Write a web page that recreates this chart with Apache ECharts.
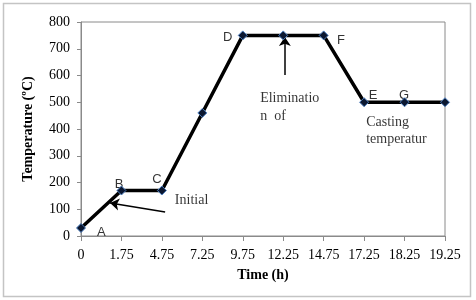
<!DOCTYPE html>
<html><head><meta charset="utf-8">
<script src="https://cdn.jsdelivr.net/npm/echarts@6/dist/echarts.min.js"></script>
<style>html,body{margin:0;padding:0;background:#fff}#c{width:476px;height:300px}</style>
</head><body><div id="c"></div>
<script>
var categories = ['0','1.75','4.75','7.25','9.75','12.25','14.75','17.25','18.25','19.25'];
var temps = [30,170,170,460,750,750,750,500,500,500];
var yTicks = {min:0, max:800, interval:100};
// annotation items in (category index, value) space
var letterLabels = [['A',0.5,15],['B',0.94,192],['C',1.88,212],['D',3.63,742],['F',6.43,733],['E',7.22,524],['G',7.99,524]];
var noteTexts = [['Initial',2.32,135],['Eliminatio',4.43,516],['n  of',4.43,449],['Casting',7.05,426],['temperatur',7.05,363]];
var arrows = [[[2.08,90],[0.72,123]],[[5.04,602],[5.04,744]]];

var chart = echarts.init(document.getElementById('c'));
var serif = '"Liberation Serif","Times New Roman",serif';
chart.setOption({
  animation:false,
  grid:{left:81,right:31,top:22,bottom:64,show:true,borderColor:'#8a8a8a',borderWidth:1},
  graphic:[{type:'rect',shape:{x:3.5,y:3.5,width:467,height:293},style:{fill:'none',stroke:'#c4c4c4',lineWidth:1.5}}],
  xAxis:[{type:'category',data:categories,boundaryGap:false,
    name:'Time (h)',nameLocation:'middle',nameGap:32,
    nameTextStyle:{fontFamily:serif,fontWeight:'bold',fontSize:14,color:'#000'},
    axisLine:{lineStyle:{color:'#8a8a8a'}},axisTick:{show:true,length:5,interval:0,lineStyle:{color:'#8a8a8a'}},
    axisLabel:{fontFamily:serif,fontSize:14,color:'#000',margin:12,interval:0,hideOverlap:false},splitLine:{show:false}},
    {type:'value',min:0,max:9,show:false}],
  yAxis:{type:'value',min:yTicks.min,max:yTicks.max,interval:yTicks.interval,
    name:'Temperature (ºC)',nameLocation:'middle',nameGap:46,
    nameTextStyle:{fontFamily:serif,fontWeight:'bold',fontSize:14,color:'#000'},
    axisLine:{show:true,lineStyle:{color:'#8a8a8a'}},axisTick:{show:true,length:4,lineStyle:{color:'#8a8a8a'}},
    axisLabel:{fontFamily:serif,fontSize:14,color:'#000',margin:11},splitLine:{show:false}},
  series:[
    {type:'scatter',xAxisIndex:1,symbolSize:0,silent:true,z:1,
      data:letterLabels.map(function(d){return {value:[d[1],d[2]],name:d[0]};}),
      label:{show:true,position:'inside',formatter:'{b}',fontFamily:'"Liberation Sans",Arial,sans-serif',fontSize:13,color:'#000'}},
    {type:'scatter',xAxisIndex:1,symbolSize:0,silent:true,
      data:noteTexts.map(function(d){return {value:[d[1],d[2]],name:d[0]};}),
      label:{show:true,position:'right',distance:0,formatter:'{b}',fontFamily:serif,fontSize:14,color:'#000'}},
    {type:'lines',coordinateSystem:'cartesian2d',xAxisIndex:1,silent:true,
      symbol:['none','arrow'],symbolSize:9,
      lineStyle:{color:'#000',width:1.5,opacity:1},
      data:arrows.map(function(a){return {coords:a};})},
    {type:'line',data:temps,z:5,symbol:'diamond',symbolSize:9,
      lineStyle:{color:'#000',width:3.5},
      itemStyle:{color:'#0b1730',borderColor:'#4d7fc0',borderWidth:1}}
  ]
});
</script></body></html>
